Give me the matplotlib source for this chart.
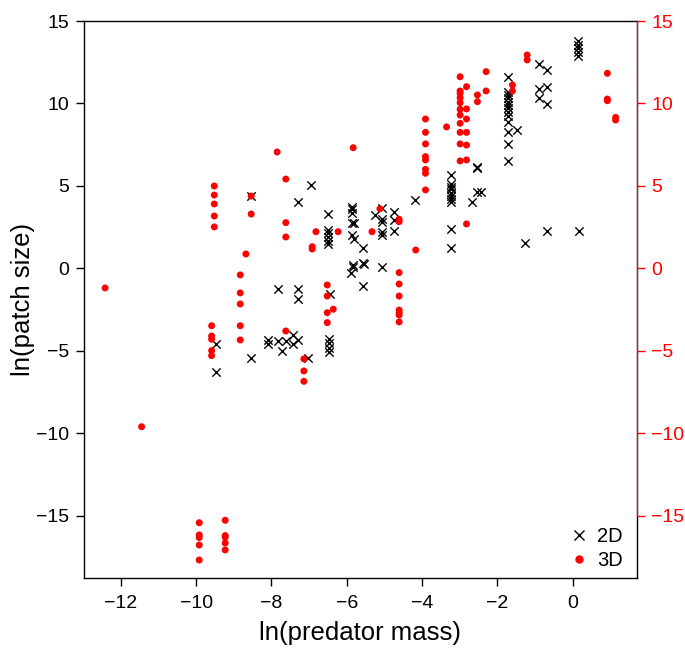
import matplotlib
matplotlib.use("Agg")
import matplotlib.pyplot as plt
from matplotlib.lines import Line2D

plt.rcParams['font.family'] = ['Liberation Sans', 'DejaVu Sans']

# 2D (black crosses)
x2d = [-9.47, -9.47, -8.54, -8.54, -8.08, -8.08, -7.84, -7.84, -7.71, -7.62,
       -7.42, -7.44, -7.29, -7.29, -7.29, -7.29, -7.02, -6.96,
       -6.51, -6.51, -6.51, -6.51, -6.51, -6.51, -6.44,
       -6.46, -6.46, -6.46, -6.46,
       -5.85, -5.85, -5.85, -5.85, -5.82, -5.85, -5.82, -5.83, -5.83, -5.89,
       -5.56, -5.56, -5.54, -5.56, -5.25,
       -5.06, -5.06, -5.06, -5.06, -5.06, -5.06,
       -4.75, -4.75, -4.75, -4.19,
       -3.23, -3.23, -3.23, -3.23, -3.23, -3.23, -3.23, -3.23, -3.23, -3.23,
       -2.68, -2.53, -2.53, -2.53, -2.44,
       -1.71, -1.71, -1.71, -1.71, -1.71, -1.71, -1.71, -1.71, -1.71, -1.71,
       -1.71, -1.71, -1.71, -1.49, -1.27,
       -0.90, -0.90, -0.90, -0.69, -0.69, -0.69, -0.69,
       0.13, 0.13, 0.13, 0.13, 0.13, 0.16]
y2d = [-4.58, -6.29, 4.39, -5.44, -4.35, -4.55, -4.39, -1.26, -4.98, -4.39,
       -4.03, -4.58, -4.33, -1.26, -1.87, 4.01, -5.44, 5.06,
       3.30, 2.33, 2.13, 1.89, 1.65, 1.47, -1.55,
       -4.29, -4.53, -4.84, -5.04,
       3.75, 3.59, 3.35, 2.78, 2.78, 2.03, 1.77, 0.11, 0.20, -0.29,
       1.22, 0.36, 0.30, -1.04, 3.24,
       3.65, 2.98, 2.84, 2.23, 2.00, 0.11,
       3.41, 2.96, 2.29, 4.15,
       5.67, 5.12, 4.95, 4.80, 4.60, 4.40, 4.20, 4.05, 2.39, 1.22,
       4.01, 6.17, 6.07, 4.65, 4.65,
       11.62, 10.72, 10.52, 10.31, 10.11, 9.91, 9.71, 9.50, 9.24, 8.90,
       8.25, 7.55, 6.52, 8.39, 1.53,
       12.37, 10.86, 10.31, 12.03, 11.02, 9.97, 2.27,
       13.80, 13.55, 13.35, 13.15, 12.90, 2.27]

# 3D (red dots)
x3d = [-12.42, -11.45,
       -9.92, -9.92, -9.92, -9.92, -9.92,
       -9.23, -9.23, -9.23, -9.23, -9.23,
       -9.52, -9.52, -9.52, -9.52, -9.52,
       -9.59, -9.59, -9.59, -9.59, -9.59,
       -8.54, -8.54, -8.68,
       -8.83, -8.83, -8.83, -8.83, -8.83,
       -7.85, -7.62, -7.62, -7.62, -7.62,
       -7.14, -7.14, -7.14, -6.92, -6.92, -6.82,
       -6.52, -6.52, -6.52, -6.52, -6.36, -6.23, -5.83, -5.33, -5.12,
       -4.61, -4.61, -4.61, -4.61, -4.61, -4.61, -4.61, -4.61, -4.61,
       -4.17,
       -3.91, -3.91, -3.91, -3.91, -3.91, -3.91, -3.91, -3.91,
       -3.35,
       -2.99, -2.99, -2.99, -2.99, -2.99, -2.99, -2.99, -2.99, -2.99, -2.99, -2.99,
       -2.82, -2.82, -2.82, -2.82, -2.82, -2.82, -2.82,
       -2.53, -2.53, -2.30, -2.30, -1.60, -1.60, -1.21, -1.21,
       0.92, 0.92, 0.92, 1.14, 1.14]
y3d = [-1.18, -9.59,
       -15.41, -16.15, -16.31, -16.76, -17.67,
       -15.26, -16.19, -16.29, -16.64, -17.06,
       5.00, 4.45, 3.91, 3.18, 2.52,
       -3.47, -4.09, -4.29, -4.98, -5.28,
       4.39, 3.30, 0.88,
       -0.39, -1.48, -2.15, -3.47, -4.33,
       7.06, 5.42, 2.78, 1.91, -3.79,
       -5.48, -6.21, -6.84, 1.32, 1.18, 2.23,
       -1.00, -1.67, -2.68, -3.28, -2.47, 2.23, 7.32, 2.23, 3.62,
       2.98, 2.84, -0.25, -0.94, -1.67, -2.52, -2.68, -2.82, -3.24,
       1.12,
       9.06, 8.25, 7.55, 6.78, 6.58, 6.01, 5.77, 4.76,
       8.58,
       11.62, 10.76, 10.62, 10.35, 10.05, 9.65, 9.30, 8.80, 8.25, 7.55, 6.52,
       11.02, 9.67, 9.06, 8.25, 7.48, 6.58, 2.70,
       10.52, 10.11, 11.93, 10.76, 11.12, 10.76, 12.94, 12.64,
       11.83, 10.27, 10.17, 9.16, 9.00]

xticks = [-12, -10, -8, -6, -4, -2, 0]
yticks = [-15, -10, -5, 0, 5, 10, 15]
series_labels = ["2D", "3D"]

fig = plt.figure(figsize=(6.85, 6.5), dpi=100)
ax = fig.add_axes([84/685, 1-578/650, (636.7-84)/685, (578-21)/650])

ax.scatter(x2d, y2d, marker='x', s=36, c='black', linewidths=1.0, zorder=2)
ax.scatter(x3d, y3d, marker='o', s=25, c='red', edgecolors='none', zorder=3)

ax.set_xlim(-12.98, 1.70)
ax.set_ylim(-18.76, 15.0)
ax.set_xticks(xticks)
ax.set_yticks(yticks)
ax.tick_params(axis='y', direction='out', length=5.5, width=1, labelsize=14, pad=5)
ax.tick_params(axis='x', direction='out', length=5.5, width=1, labelsize=14, pad=7)
for s in ax.spines.values():
    s.set_linewidth(1.0)
    s.set_color('black')
ax.set_xlabel("ln(predator mass)", fontsize=18.5, labelpad=6)
ax.set_ylabel("ln(patch size)", fontsize=18.5, labelpad=1)

ax2 = ax.twinx()
ax2.set_ylim(ax.get_ylim())
ax2.set_yticks(yticks)
ax2.spines['right'].set_bounds(-15, 15)
ax2.spines['right'].set_color('red')
for k in ['left', 'top', 'bottom']:
    ax2.spines[k].set_visible(False)
ax2.tick_params(axis='y', colors='red', direction='out', length=5.5, width=1,
                labelsize=14, pad=5)

handles = [Line2D([], [], marker='x', color='black', linestyle='none',
                  markersize=7, markeredgewidth=1.0),
           Line2D([], [], marker='o', color='red', linestyle='none',
                  markersize=6, markeredgewidth=0)]
ax.legend(handles, series_labels, loc='lower right', frameon=False,
          fontsize=14.5, handletextpad=0.3, borderaxespad=0.3,
          labelspacing=0.25, handlelength=1.2, borderpad=0.1,
          bbox_to_anchor=(0.989, 0.0))

fig.savefig("out.png", dpi=100)
